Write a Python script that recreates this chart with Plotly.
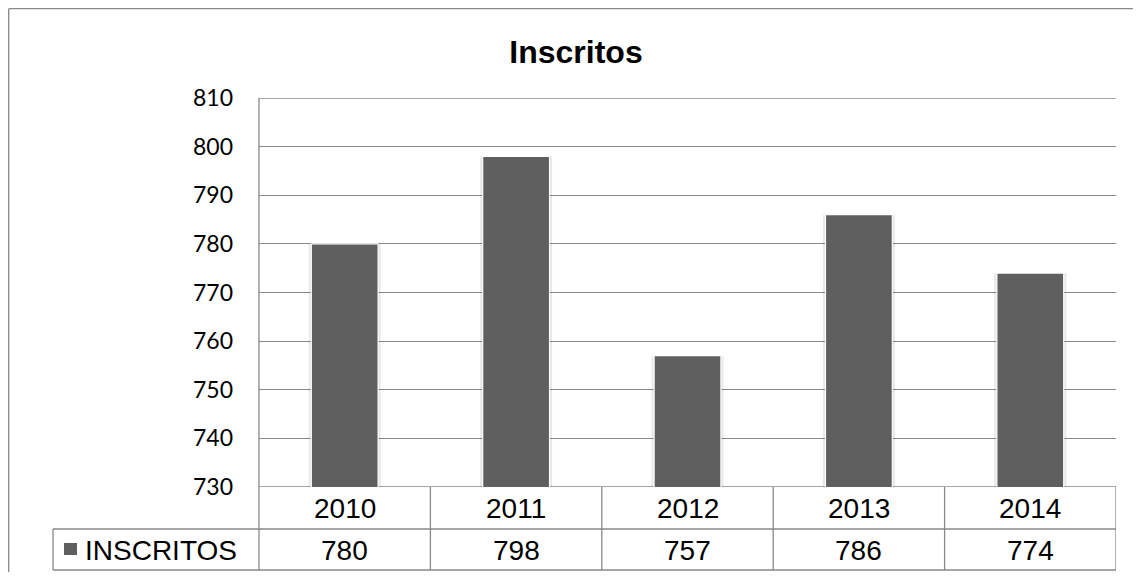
import plotly.graph_objects as go

years = ["2010", "2011", "2012", "2013", "2014"]
inscritos = [780, 798, 757, 786, 774]
series_name = "INSCRITOS"
y_ticks = [730, 740, 750, 760, 770, 780, 790, 800, 810]

BAR = "#5f5f5f"
GRID = "#888888"
OFF = 8  # page body margin
W, H = 1141 - 2 * OFF, 580 - 2 * OFF
# target pixel positions (page coordinates)
L, R, T, B = 259, 1116, 98, 487
pw, ph = R - L, B - T

def px_y(p):  # page pixel y -> paper y
    return (B - p) / ph

def px_x(p):
    return (p - L) / pw

fig = go.Figure()
# soft shadow
fig.add_trace(go.Bar(x=list(range(len(years))), y=inscritos, width=0.42,
                     marker=dict(color="rgba(0,0,0,0.09)", line=dict(width=0)),
                     hoverinfo="skip", showlegend=False))
fig.add_trace(go.Bar(x=list(range(len(years))), y=inscritos, width=0.39, name=series_name,
                     marker=dict(color=BAR, line=dict(color="white", width=1.2)),
                     showlegend=False))

shapes = []
line = dict(color=GRID, width=1.3)
# outer border (left and top)
shapes.append(dict(type="line", xref="paper", yref="paper", x0=px_x(8.7), x1=px_x(1145),
                   y0=px_y(8.7), y1=px_y(8.7), line=line, layer="above"))
shapes.append(dict(type="line", xref="paper", yref="paper", x0=px_x(8.7), x1=px_x(8.7),
                   y0=px_y(8.7), y1=px_y(585), line=line, layer="above"))
# gridlines at range ends
for yv in (y_ticks[0], y_ticks[-1]):
    shapes.append(dict(type="line", xref="paper", yref="y", x0=0, x1=1,
                       y0=yv, y1=yv, line=line, layer="below"))
# table horizontals
for yy in (529, 570):
    shapes.append(dict(type="line", xref="paper", yref="paper", x0=px_x(53), x1=1,
                       y0=px_y(yy), y1=px_y(yy), line=line))
# left axis line down through table
shapes.append(dict(type="line", xref="paper", yref="paper", x0=0, x1=0,
                   y0=1, y1=px_y(570), line=line))
shapes.append(dict(type="line", xref="paper", yref="paper", x0=px_x(53), x1=px_x(53),
                   y0=px_y(529), y1=px_y(570), line=line))
# category dividers
n = len(years)
for i in range(n):
    shapes.append(dict(type="line", xref="x", yref="paper", x0=i + 0.5, x1=i + 0.5,
                       y0=0, y1=px_y(570), line=line))
# legend key
shapes.append(dict(type="rect", xref="paper", yref="paper", x0=px_x(64), x1=px_x(77),
                   y0=px_y(555), y1=px_y(543), fillcolor=BAR, line=dict(width=0)))

ann = []
tfont = dict(family="Liberation Sans, Arial", size=28, color="black")
for i, (yr, v) in enumerate(zip(years, inscritos)):
    ann.append(dict(x=i, y=px_y(508), xref="x", yref="paper", text=yr, showarrow=False,
                    font=tfont, xanchor="center", yanchor="middle"))
    ann.append(dict(x=i, y=px_y(550), xref="x", yref="paper", text=str(v), showarrow=False,
                    font=tfont, xanchor="center", yanchor="middle"))
ann.append(dict(x=px_x(83), y=px_y(550), xref="paper", yref="paper", text=series_name,
                showarrow=False, font=tfont, xanchor="left", yanchor="middle"))

fig.update_layout(
    width=W, height=H,
    margin=dict(l=L - OFF, r=(W + OFF) - R, t=T - OFF, b=(H + OFF) - B),
    paper_bgcolor="white", plot_bgcolor="white",
    barmode="overlay",
    title=dict(text="<b>Inscritos</b>", x=(576 - OFF) / W, xref="container", xanchor="center",
               y=1 - (52 - OFF) / H, yref="container", yanchor="middle",
               font=dict(family="Liberation Sans, Arial", size=32, color="black")),
    xaxis=dict(range=[-0.5, n - 0.5], showticklabels=False, showgrid=False,
               zeroline=False, showline=False, fixedrange=True),
    yaxis=dict(range=[730, 810], tickvals=y_ticks, showgrid=True, gridcolor=GRID,
               gridwidth=1.3, zeroline=False, showline=False, ticks="",
               ticklabelstandoff=25,
               tickfont=dict(family="Lato, Carlito, sans-serif", size=23, color="black")),
    shapes=shapes, annotations=ann,
)
fig.write_html("out.html")
